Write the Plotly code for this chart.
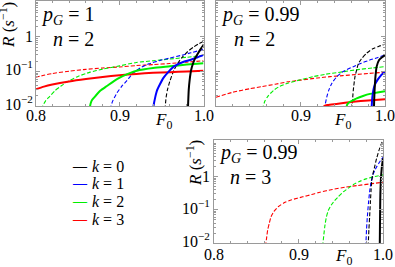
import math
import plotly.graph_objects as go

# ---------------- data ----------------
k_labels = ["0", "1", "2", "3"]
k_colors = ["#000000", "#0000ff", "#00ee00", "#ff0000"]

panel_pG = ["1", "0.99", "0.99"]
panel_n = ["2", "2", "3"]

x_tickvals = [0.8, 0.9, 1.0]
x_ticktext_full = ["0.8", "0.9", "1.0"]
x_ticktext_mid = ["", "0.9", "1.0"]
y_tickvals = [0.01, 0.1, 1]
y_ticktext = ["10<sup>\u22122</sup>", "10<sup>\u22121</sup>", "1"]

# Panel 1: p_G = 1, n = 2
F1_k3_solid = [0.80, 0.81, 0.82, 0.84, 0.86, 0.88, 0.90, 0.92, 0.94, 0.96, 0.98, 1.00]
R1_k3_solid = [0.0302, 0.0363, 0.0417, 0.0513, 0.0603, 0.0692, 0.0776, 0.0851, 0.0912, 0.0955, 0.100, 0.105]
F1_k3_dash = [0.80, 0.81, 0.82, 0.84, 0.86, 0.88, 0.90, 0.92, 0.94, 0.96, 0.98, 1.00]
R1_k3_dash = [0.0676, 0.0776, 0.0871, 0.102, 0.115, 0.126, 0.135, 0.148, 0.158, 0.170, 0.186, 0.204]
F1_k2_solid = [0.8645, 0.865, 0.866, 0.8675, 0.870, 0.877, 0.885, 0.897, 0.910, 0.924, 0.940, 0.960, 0.980, 1.000]
R1_k2_solid = [0.008, 0.0100, 0.0126, 0.0151, 0.0178, 0.0275, 0.0380, 0.0603, 0.0851, 0.110, 0.126, 0.141, 0.158, 0.174]
F1_k2_dash = [0.8082, 0.8086, 0.812, 0.817, 0.823, 0.830, 0.837, 0.850, 0.865, 0.880, 0.900, 0.920, 0.940, 0.960, 0.980, 1.000]
R1_k2_dash = [0.008, 0.0100, 0.0141, 0.0191, 0.0275, 0.0372, 0.0490, 0.0708, 0.0955, 0.117, 0.145, 0.182, 0.204, 0.229, 0.257, 0.295]
F1_k1_solid = [0.9402, 0.9405, 0.9425, 0.9445, 0.948, 0.9525, 0.958, 0.9645, 0.9764, 0.985, 0.993, 1.000]
R1_k1_solid = [0.008, 0.0100, 0.0178, 0.0275, 0.0417, 0.0661, 0.0955, 0.138, 0.191, 0.219, 0.257, 0.302]
F1_k1_dash = [0.8896, 0.8899, 0.892, 0.897, 0.903, 0.9086, 0.916, 0.9246, 0.935, 0.9485, 0.960, 0.9725, 0.985, 1.000]
R1_k1_dash = [0.008, 0.0100, 0.0141, 0.0240, 0.0380, 0.0537, 0.0891, 0.126, 0.166, 0.209, 0.245, 0.288, 0.347, 0.437]
F1_k0_dash = [0.9543, 0.9545, 0.9555, 0.957, 0.960, 0.9645, 0.969, 0.9745, 0.981, 0.9884, 0.995, 1.000]
R1_k0_dash = [0.008, 0.0100, 0.0178, 0.0288, 0.0525, 0.105, 0.166, 0.257, 0.372, 0.513, 0.646, 0.741]
F1_k0_solid = [0.9815, 0.9816, 0.9820, 0.9824, 0.9835, 0.9853, 0.9875, 0.9904, 0.9935, 0.9964, 1.000]
R1_k0_solid = [0.008, 0.0100, 0.0178, 0.0288, 0.0562, 0.110, 0.170, 0.251, 0.339, 0.437, 0.575]

# Panel 2: p_G = 0.99, n = 2
F2_k3_dash = [0.80, 0.82, 0.84, 0.854, 0.87, 0.885, 0.90, 0.92, 0.935, 0.95, 0.965, 0.98, 1.00]
R2_k3_dash = [0.0178, 0.0251, 0.0316, 0.0363, 0.0427, 0.0501, 0.0562, 0.0646, 0.0708, 0.0759, 0.0813, 0.0871, 0.0955]
F2_k2_dash = [0.8558, 0.856, 0.858, 0.862, 0.868, 0.874, 0.885, 0.900, 0.915, 0.930, 0.950, 0.970, 0.985, 1.000]
R2_k2_dash = [0.008, 0.0100, 0.0141, 0.0200, 0.0282, 0.0355, 0.0457, 0.0575, 0.0708, 0.0832, 0.0977, 0.115, 0.126, 0.138]
F2_k1_dash = [0.9288, 0.929, 0.931, 0.9335, 0.937, 0.943, 0.950, 0.9625, 0.972, 0.982, 0.991, 1.000]
R2_k1_dash = [0.008, 0.0100, 0.0178, 0.0288, 0.0447, 0.0708, 0.0977, 0.138, 0.174, 0.214, 0.251, 0.302]
F2_k0_dash = [0.9608, 0.961, 0.9618, 0.9625, 0.9645, 0.9665, 0.9684, 0.972, 0.9783, 0.985, 0.993, 1.000]
R2_k0_dash = [0.008, 0.0100, 0.0178, 0.0288, 0.0708, 0.112, 0.166, 0.229, 0.339, 0.447, 0.537, 0.617]
F2_k0_solid = [0.9869, 0.9870, 0.9874, 0.9880, 0.9887, 0.9901, 0.9930, 0.9965, 1.000]
R2_k0_solid = [0.008, 0.0100, 0.0200, 0.0398, 0.0708, 0.138, 0.214, 0.257, 0.295]
F2_k1_solid = [0.9842, 0.9843, 0.9850, 0.9862, 0.988, 0.991, 0.995, 1.000]
R2_k1_solid = [0.008, 0.0100, 0.0178, 0.0288, 0.0417, 0.0562, 0.0759, 0.100]
F2_k2_solid = [0.9545, 0.9547, 0.9560, 0.959, 0.9625, 0.9665, 0.974, 0.9822, 0.991, 1.000]
R2_k2_solid = [0.008, 0.0100, 0.0117, 0.0135, 0.0148, 0.0166, 0.0195, 0.0224, 0.0245, 0.0269]
F2_k3_solid = [0.9278, 0.928, 0.932, 0.9425, 0.9625, 0.980, 1.000]
R2_k3_solid = [0.008, 0.0100, 0.0107, 0.0115, 0.0132, 0.0145, 0.0158]

# Panel 3: p_G = 0.99, n = 3
F3_k3_dash = [0.8613, 0.8615, 0.8625, 0.8635, 0.8655, 0.8675, 0.871, 0.876, 0.883, 0.892, 0.905, 0.9156, 0.9254, 0.940, 0.955, 0.970, 0.985, 1.000]
R3_k3_dash = [0.008, 0.0100, 0.0158, 0.0245, 0.0398, 0.0617, 0.0891, 0.123, 0.162, 0.200, 0.245, 0.288, 0.339, 0.407, 0.479, 0.537, 0.603, 0.676]
F3_k2_dash = [0.9288, 0.929, 0.930, 0.9314, 0.933, 0.9353, 0.939, 0.943, 0.9471, 0.953, 0.959, 0.965, 0.972, 0.980, 0.990, 1.000]
R3_k2_dash = [0.008, 0.0100, 0.0178, 0.0355, 0.0603, 0.0955, 0.141, 0.191, 0.245, 0.347, 0.447, 0.575, 0.708, 0.851, 1.00, 1.12]
F3_k1_dash = [0.9796, 0.9798, 0.9805, 0.9815, 0.9828, 0.9842, 0.9858, 0.988, 0.992, 0.996, 1.000]
R3_k1_dash = [0.008, 0.0100, 0.0251, 0.0631, 0.158, 0.355, 0.661, 1.12, 1.86, 2.75, 3.80]
F3_k0_dash = [0.9824, 0.9826, 0.9833, 0.9842, 0.9850, 0.9858, 0.9866, 0.9878, 0.990, 0.9925, 0.996, 1.000]
R3_k0_dash = [0.008, 0.0100, 0.0251, 0.0631, 0.158, 0.355, 0.708, 1.12, 1.91, 3.55, 7.08, 12.6]
F3_k0_solid = [0.9961, 0.9962, 0.9964, 0.9966, 0.9969, 0.9975, 0.9985, 1.000]
R3_k0_solid = [0.008, 0.0100, 0.0316, 0.100, 0.316, 0.794, 1.78, 3.55]

# ---------------- figure ----------------
W, H = 395, 267
SERIF = "Liberation Serif, Times New Roman, DejaVu Serif, serif"
FRAME = "#9a9a9a"


def px(x):
    return x / W


def py(y):
    return 1 - y / H


fig = go.Figure()


def add_curve(F, R, k, dashed, panel):
    suffix = "" if panel == 1 else str(panel)
    fig.add_trace(go.Scatter(
        x=F, y=R, mode="lines", showlegend=False, hoverinfo="skip",
        line=dict(color=k_colors[k], width=1.1 if dashed else 2.0,
                  dash="4px,2px" if dashed else "solid", shape="spline", smoothing=0.6),
        xaxis="x" + suffix, yaxis="y" + suffix))


# panel 1
add_curve(F1_k3_dash, R1_k3_dash, 3, True, 1)
add_curve(F1_k2_dash, R1_k2_dash, 2, True, 1)
add_curve(F1_k1_dash, R1_k1_dash, 1, True, 1)
add_curve(F1_k0_dash, R1_k0_dash, 0, True, 1)
add_curve(F1_k3_solid, R1_k3_solid, 3, False, 1)
add_curve(F1_k2_solid, R1_k2_solid, 2, False, 1)
add_curve(F1_k1_solid, R1_k1_solid, 1, False, 1)
add_curve(F1_k0_solid, R1_k0_solid, 0, False, 1)
# panel 2
add_curve(F2_k3_dash, R2_k3_dash, 3, True, 2)
add_curve(F2_k2_dash, R2_k2_dash, 2, True, 2)
add_curve(F2_k1_dash, R2_k1_dash, 1, True, 2)
add_curve(F2_k0_dash, R2_k0_dash, 0, True, 2)
add_curve(F2_k3_solid, R2_k3_solid, 3, False, 2)
add_curve(F2_k2_solid, R2_k2_solid, 2, False, 2)
add_curve(F2_k1_solid, R2_k1_solid, 1, False, 2)
add_curve(F2_k0_solid, R2_k0_solid, 0, False, 2)
# panel 3
add_curve(F3_k3_dash, R3_k3_dash, 3, True, 3)
add_curve(F3_k2_dash, R3_k2_dash, 2, True, 3)
add_curve(F3_k1_dash, R3_k1_dash, 1, True, 3)
add_curve(F3_k0_dash, R3_k0_dash, 0, True, 3)
add_curve(F3_k0_solid, R3_k0_solid, 0, False, 3)

common = dict(showline=True, linecolor=FRAME, linewidth=1, mirror="ticks",
              ticks="inside", ticklen=4, tickcolor=FRAME, tickwidth=1,
              showgrid=False, zeroline=False, showticklabels=False,
              minor=dict(ticks="inside", ticklen=2, tickcolor=FRAME, showgrid=False))


def xax(domain, anchor):
    d = dict(common)
    d.update(domain=domain, anchor=anchor, range=[0.8, 1.0], tickmode="array",
             tickvals=x_tickvals)
    d["minor"] = dict(common["minor"], dtick=0.02)
    return d


def yax(domain, anchor, top):
    d = dict(common)
    d.update(domain=domain, anchor=anchor, type="log", range=[-2, top], tickmode="array",
             tickvals=y_tickvals)
    d["minor"] = dict(common["minor"], dtick="D1")
    return d


fig.update_layout(
    width=W, height=H, autosize=False,
    margin=dict(l=0, r=0, t=0, b=0),
    paper_bgcolor="white", plot_bgcolor="white",
    xaxis=xax([px(35.5), px(203.5)], "y"),
    yaxis=yax([py(106), py(1)], "x", 1.04),
    xaxis2=xax([px(216), px(385)], "y2"),
    yaxis2=yax([py(106), py(1)], "x2", 1.04),
    xaxis3=xax([px(214), px(383)], "y3"),
    yaxis3=yax([py(243), py(140)], "x3", 1.1),
)

tick_font = dict(family=SERIF, size=16, color="black")
ann_font = dict(family=SERIF, size=20, color="black")
lab_font = dict(family=SERIF, size=17, color="black")

# x tick labels (placed at the tick values of each x axis)
x_label_rows = [("x", 116, x_ticktext_full), ("x2", 116, x_ticktext_mid), ("x3", 254, x_ticktext_full)]
for xref, ly, texts in x_label_rows:
    for v, t in zip(x_tickvals, texts):
        if t:
            fig.add_annotation(x=v, xref=xref, y=py(ly), yref="paper", text=t, showarrow=False,
                               xanchor="center", yanchor="middle", font=tick_font, borderpad=0)

# y tick labels
y_label_cols = [("y", 34), ("y3", 211)]
for yref, lx in y_label_cols:
    for v, t in zip(y_tickvals, y_ticktext):
        fig.add_annotation(x=px(lx), xref="paper", y=math.log10(v), yref=yref, text=t,
                           showarrow=False, xanchor="right", yanchor="middle", borderpad=0,
                           yshift=3 if "sup" in t else 0, font=tick_font)

# panel annotations (pG, n)
pG_pos = [(40, 15), (220, 15), (218, 153)]
n_pos = [(52, 39), (233, 39), (229, 177)]
for i in range(3):
    fig.add_annotation(x=px(pG_pos[i][0]), y=py(pG_pos[i][1]), xref="paper", yref="paper",
                       xanchor="left", yanchor="middle", showarrow=False, font=ann_font,
                       borderpad=0, text="<i>p</i><sub><i>G</i></sub> = " + panel_pG[i])
    fig.add_annotation(x=px(n_pos[i][0]), y=py(n_pos[i][1]), xref="paper", yref="paper",
                       xanchor="left", yanchor="middle", showarrow=False, font=ann_font,
                       borderpad=0, text="<i>n</i> = " + panel_n[i])

# F0 axis labels
for (fx, fy) in [(163, 121), (342, 121), (343, 257)]:
    fig.add_annotation(x=px(fx), y=py(fy), xref="paper", yref="paper", showarrow=False,
                       xanchor="center", yanchor="middle", font=lab_font, borderpad=0,
                       text="<i>F</i><sub>0</sub>")

# R axis titles
for (rx, ry) in [(7, 25), (194, 163)]:
    fig.add_annotation(x=px(rx), y=py(ry), xref="paper", yref="paper", showarrow=False,
                       xanchor="center", yanchor="middle", textangle=-90, font=lab_font,
                       borderpad=0, text="<i>R</i> (<i>s</i><sup>\u22121</sup>)")

# legend: coloured dash + label
leg_y = [166.7, 183.3, 201.7, 219.3]
for i in range(4):
    fig.add_annotation(x=px(71), y=py(leg_y[i]), xref="paper", yref="paper", showarrow=False,
                       xanchor="left", yanchor="middle", borderpad=0,
                       font=dict(family=SERIF, size=14, color=k_colors[i], weight="bold"),
                       text="\u2014")
    fig.add_annotation(x=px(91), y=py(leg_y[i]), xref="paper", yref="paper", showarrow=False,
                       xanchor="left", yanchor="middle", borderpad=0,
                       font=dict(family=SERIF, size=16, color="black"),
                       text="<i>k</i> = " + k_labels[i])

# the page's default 8px body margin would shift the figure; remove it
fig.write_html("out.html", config={"displayModeBar": False, "staticPlot": True},
               post_script="document.body.style.margin='0';document.body.style.padding='0';")
